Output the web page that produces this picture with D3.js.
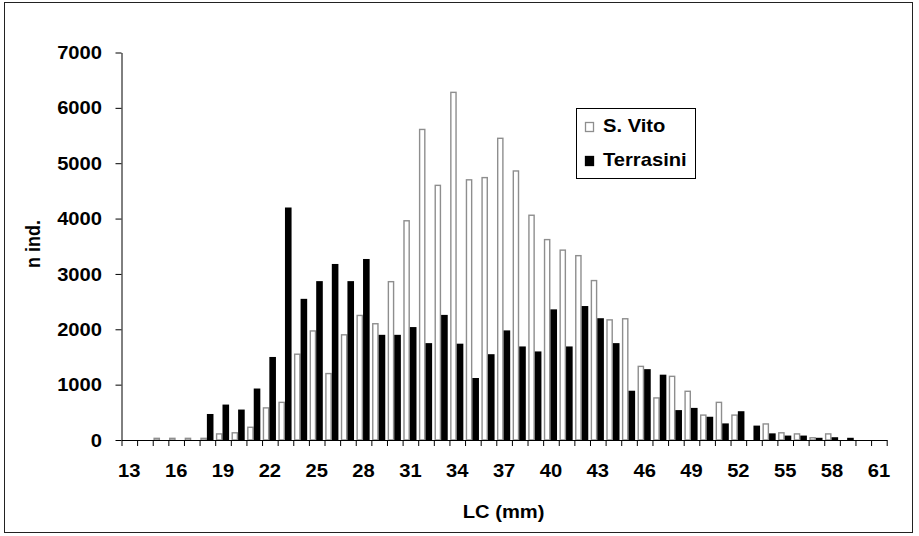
<!DOCTYPE html>
<html>
<head>
<meta charset="utf-8">
<script src="https://cdn.jsdelivr.net/npm/d3@7"></script>
<style>
  body { margin: 0; background: #fff; }
  svg text { font-family: "Liberation Sans", Arial, sans-serif; font-weight: bold; fill: #000; }
</style>
</head>
<body>
<svg id="chart" width="919" height="536"></svg>
<script>
// Carapace length classes (mm)
const categories = [13,14,15,16,17,18,19,20,21,22,23,24,25,26,27,28,29,30,31,32,33,34,35,36,37,
                    38,39,40,41,42,43,44,45,46,47,48,49,50,51,52,53,54,55,56,57,58,59,60,61];
const seriesNames = ["S. Vito", "Terrasini"];
// Number of individuals per class
const sVito = [0,0,30,30,30,30,110,130,230,580,680,1550,1970,1200,1900,2250,2100,2860,3960,5610,4600,6280,4700,4740,5450,
               4860,4060,3620,3430,3330,2880,2170,2190,1330,760,1150,880,450,680,450,0,290,130,110,40,110,0,0,0];
const terrasini = [0,0,0,0,0,470,640,550,930,1500,4200,2550,2870,3180,2870,3270,1900,1900,2040,1750,2260,1740,1120,1550,1980,
                   1690,1600,2360,1690,2420,2200,1750,890,1280,1180,540,580,420,300,520,260,120,80,80,40,50,40,0,0];
const yTicks = [0,1000,2000,3000,4000,5000,6000,7000];
const xTickLabels = [13,16,19,22,25,28,31,34,37,40,43,46,49,52,55,58,61];
const xTitle = "LC (mm)";
const yTitle = "n ind.";

const FONT = 18;      // px
const STRETCH = 1.12; // horizontal widening of the lettering

const svg = d3.select("#chart");

// page frame
svg.append("rect")
  .attr("x", 4.5).attr("y", 2.5).attr("width", 908).attr("height", 530)
  .attr("fill", "none").attr("stroke", "#222").attr("stroke-width", 1);

const plotLeft = 121.5, plotRight = 886.7, plotBottom = 440, plotTop = 52.5;

const x = d3.scaleBand().domain(categories).range([plotLeft, plotRight]).padding(0);
const xEdge = d3.scaleLinear().domain([0, categories.length]).range([plotLeft, plotRight]);
const sub = d3.scaleBand().domain(seriesNames).range([0.7, 13.9]).padding(0);
const y = d3.scaleLinear().domain([0, 7000]).range([plotBottom, plotTop]);

const rows = categories.map((c, i) => ({ c, v: [sVito[i], terrasini[i]] }));

// S. Vito: open bars with grey outline
svg.append("g").selectAll("rect")
  .data(rows.filter(d => d.v[0] > 0))
  .join("rect")
  .attr("x", d => x(d.c) + sub("S. Vito") + 0.7)
  .attr("width", sub.bandwidth() - 1.4)
  .attr("y", d => y(d.v[0]))
  .attr("height", d => y(0) - y(d.v[0]))
  .attr("fill", "#fff")
  .attr("stroke", "#8e8e8e")
  .attr("stroke-width", 1.4);

// Terrasini: solid black bars
svg.append("g").selectAll("rect")
  .data(rows.filter(d => d.v[1] > 0))
  .join("rect")
  .attr("x", d => x(d.c) + sub("Terrasini"))
  .attr("width", sub.bandwidth())
  .attr("y", d => y(d.v[1]))
  .attr("height", d => y(0) - y(d.v[1]))
  .attr("fill", "#000");

// y axis
const yAxis = svg.append("g")
  .attr("transform", `translate(${plotLeft},0)`)
  .call(d3.axisLeft(y).tickValues(yTicks).tickSize(6).tickSizeOuter(0).tickFormat(d3.format("d")));
yAxis.selectAll("text")
  .attr("x", -19.5 / STRETCH)
  .attr("dy", "0.34em")
  .attr("transform", `scale(${STRETCH},1)`)
  .style("font-size", FONT + "px");

// x axis: line and boundary ticks
svg.append("g")
  .attr("transform", `translate(0,${plotBottom})`)
  .call(d3.axisBottom(xEdge).tickValues(d3.range(0, categories.length + 1)).tickSize(6).tickSizeOuter(0).tickFormat(""));

// x axis: class labels every third class
const xLab = svg.append("g")
  .attr("transform", `translate(0,${plotBottom})`)
  .call(d3.axisBottom(x).tickValues(xTickLabels).tickSize(0).tickPadding(24));
xLab.select(".domain").remove();
xLab.selectAll("text")
  .attr("transform", `scale(${STRETCH},1)`)
  .attr("x", 0)
  .style("font-size", FONT + "px");

svg.selectAll(".domain, .tick line").attr("stroke", "#000");

// axis titles
svg.append("text")
  .attr("transform", `translate(${(plotLeft + plotRight) / 2 - 0.5},518) scale(${STRETCH},1)`)
  .attr("text-anchor", "middle")
  .style("font-size", FONT + "px")
  .text(xTitle);

svg.append("text")
  .attr("transform", `translate(40,244) scale(${STRETCH},1) rotate(-90)`)
  .attr("text-anchor", "middle")
  .style("font-size", FONT + "px")
  .text(yTitle);

// legend
const lg = svg.append("g");
lg.append("rect")
  .attr("x", 576.5).attr("y", 108.5).attr("width", 119).attr("height", 70)
  .attr("fill", "#fff").attr("stroke", "#000").attr("stroke-width", 1);
const legendItems = [
  { name: seriesNames[0], fill: "#fff", stroke: "#8e8e8e", cy: 127, ty: 132 },
  { name: seriesNames[1], fill: "#000", stroke: "#000", cy: 161, ty: 166 }
];
legendItems.forEach(it => {
  lg.append("rect")
    .attr("x", 585.5).attr("y", it.cy - 4.5).attr("width", 8).attr("height", 9)
    .attr("fill", it.fill).attr("stroke", it.stroke).attr("stroke-width", 1.3);
  lg.append("text")
    .attr("transform", `translate(603,${it.ty}) scale(${STRETCH},1)`)
    .style("font-size", FONT + "px")
    .text(it.name);
});
</script>
</body>
</html>
